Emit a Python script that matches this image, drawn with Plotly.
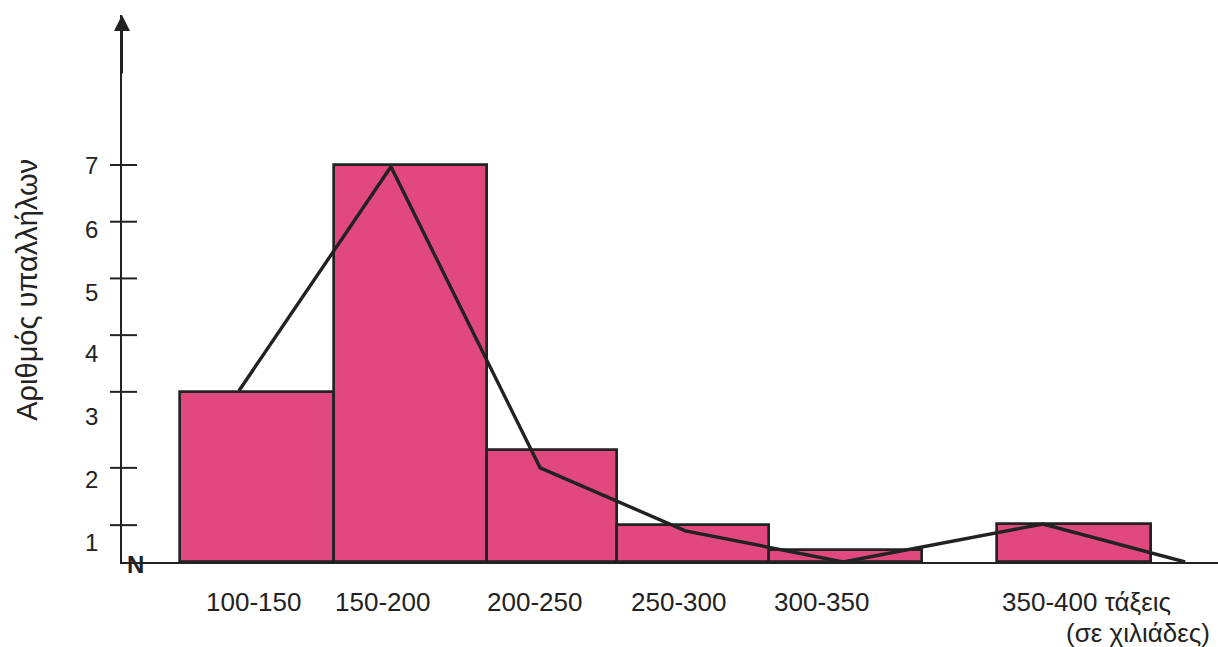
import plotly.graph_objects as go

# Class intervals (wage classes, in thousands) and frequencies as drawn
classes = ["100-150", "150-200", "200-250", "250-300", "300-350", "350-400 τάξεις"]
bar_left = [100.0, 150.0, 200.0, 242.3, 291.9, 366.1]
bar_right = [150.0, 200.0, 242.3, 291.9, 341.7, 416.3]
bar_height = [3.0, 7.0, 1.98, 0.65, 0.21, 0.67]

# Frequency polygon vertices
poly_x = [119.2, 168.7, 217.3, 264.6, 316.0, 381.1, 427.4]
poly_y = [3.02, 6.97, 1.66, 0.55, 0.0, 0.67, 0.0]

# Y axis: tick marks and their labels
tick_marks = [0.65, 1.66, 3.0, 4.0, 5.0, 6.0, 7.0]
tick_label_pos = [0.35, 1.45, 2.56, 3.67, 4.76, 5.87, 7.0]
tick_labels = ["1", "2", "3", "4", "5", "6", "7"]

# Where the class labels sit under the axis
class_label_x = [123.8, 165.8, 215.3, 262.5, 309.1, 367.1]

y_title = "Αριθμός υπαλλήλων"
x_unit = "(σε χιλιάδες)"

FONT = "Arial, Liberation Sans, sans-serif"
INK = "#222222"
FILL = "#E1497E"

centers = [(l + r) / 2 for l, r in zip(bar_left, bar_right)]
widths = [r - l for l, r in zip(bar_left, bar_right)]

fig = go.Figure()
fig.add_trace(go.Bar(
    x=centers, y=bar_height, width=widths,
    marker=dict(color=FILL, line=dict(color=INK, width=2.7)),
    hoverinfo="skip",
))
fig.add_trace(go.Scatter(
    x=poly_x, y=poly_y, mode="lines",
    line=dict(color=INK, width=3.4), hoverinfo="skip",
))

shapes = []
for v in tick_marks:
    shapes.append(dict(
        type="line", xref="paper", xsizemode="pixel", xanchor=0,
        x0=-12, x1=15, yref="y", y0=v, y1=v,
        line=dict(color=INK, width=2),
    ))

annotations = []
# arrow head on the vertical axis
annotations.append(dict(
    xref="paper", yref="paper", x=0, y=1, ax=0, ay=60,
    axref="pixel", ayref="pixel", text="", showarrow=True,
    arrowhead=2, arrowsize=1.6, arrowwidth=2, arrowcolor=INK, standoff=0,
))
for i, (xp, lab) in enumerate(zip(class_label_x, classes)):
    last = i == len(classes) - 1
    annotations.append(dict(
        xref="x", yref="paper", x=xp, y=0, yshift=-40, text=lab,
        showarrow=False, xanchor="left" if last else "center",
        yanchor="middle", font=dict(family=FONT, size=26, color=INK),
    ))
annotations.append(dict(
    xref="paper", yref="paper", x=1, y=0, yshift=-71, xshift=-6, text=x_unit,
    showarrow=False, xanchor="right", yanchor="middle",
    font=dict(family=FONT, size=26, color=INK),
))
for pos, lab in zip(tick_label_pos, tick_labels):
    annotations.append(dict(
        xref="paper", yref="y", x=0, xshift=-22, y=pos, text=lab,
        showarrow=False, xanchor="right", yanchor="middle",
        font=dict(family=FONT, size=24, color=INK),
    ))
annotations.append(dict(
    xref="paper", yref="y", x=0, xshift=-95, y=4.8, text=y_title,
    textangle=-90, showarrow=False, xanchor="center", yanchor="middle",
    font=dict(family=FONT, size=29, color=INK),
))
annotations.append(dict(
    xref="paper", yref="y", x=0, xshift=13, y=0.0, yshift=-2, text="<b>N</b>",
    showarrow=False, xanchor="center", yanchor="middle",
    font=dict(family=FONT, size=24, color=INK),
))

fig.update_layout(
    width=1218, height=647,
    margin=dict(l=122, r=0, t=15, b=85),
    paper_bgcolor="white", plot_bgcolor="white",
    showlegend=False, bargap=0,
    shapes=shapes, annotations=annotations,
    xaxis=dict(range=[81.1, 438.1], showgrid=False, zeroline=False,
               showticklabels=False, ticks="", showline=True,
               linecolor=INK, linewidth=2),
    yaxis=dict(range=[0, 9.645], showgrid=False, zeroline=False,
               showticklabels=False, ticks="", showline=True,
               linecolor=INK, linewidth=2),
)

fig.write_html("out.html")
